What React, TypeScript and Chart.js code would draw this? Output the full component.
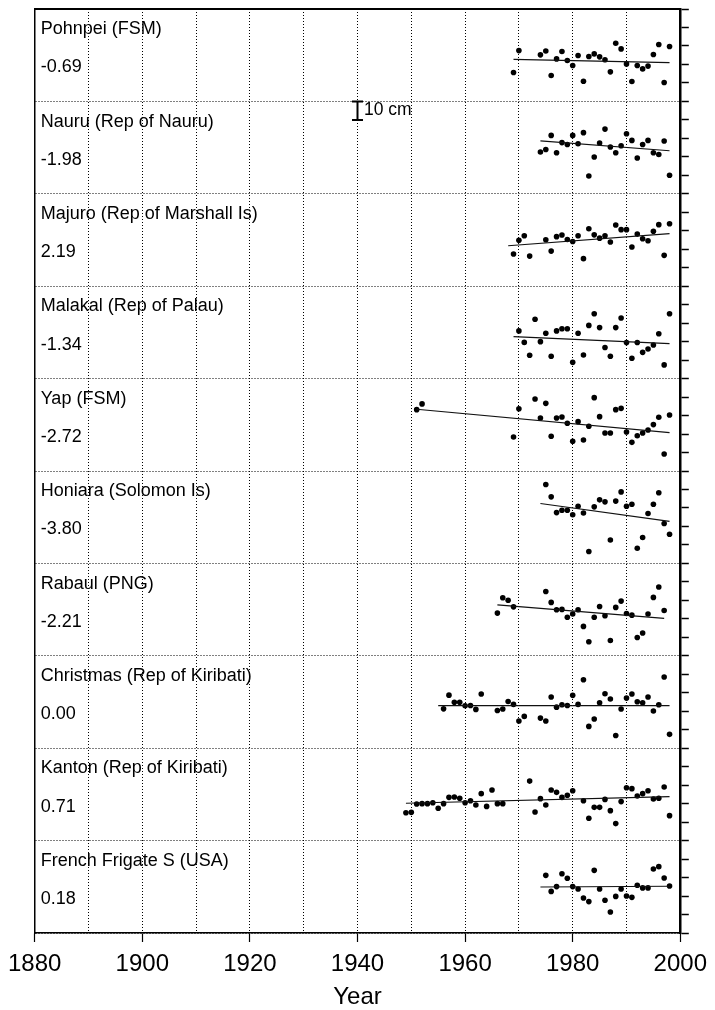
import React, { useEffect, useRef } from "react";
import { Chart, registerables } from "chart.js";

Chart.register(...registerables);

// ---------- data ----------
const STATION_NAMES = [
  "Pohnpei (FSM)",
  "Nauru (Rep of Nauru)",
  "Majuro (Rep of Marshall Is)",
  "Malakal (Rep of Palau)",
  "Yap (FSM)",
  "Honiara (Solomon Is)",
  "Rabaul (PNG)",
  "Christmas (Rep of Kiribati)",
  "Kanton (Rep of Kiribati)",
  "French Frigate S (USA)",
];
const TREND_RATES = ["-0.69", "-1.98", "2.19", "-1.34", "-2.72", "-3.80", "-2.21", "0.00", "0.71", "0.18"];

// annual sea level anomalies (cm) per station
const POHNPEI_YEARS = [1969, 1970, 1974, 1975, 1976, 1977, 1978, 1979, 1980, 1981, 1982, 1983, 1984, 1985, 1986, 1987, 1988, 1989, 1990, 1991, 1992, 1993, 1994, 1995, 1996, 1997, 1998];
const POHNPEI_CM = [-9.4, 2.5, 0.2, 2.3, -11.0, -2.0, 2.0, -2.9, -5.6, -0.2, -14.1, -0.7, 0.7, -0.9, -2.5, -9.0, 6.5, 3.4, -4.7, -14.2, -5.6, -7.4, -5.9, 0.4, 5.8, -14.8, 4.7];

const NAURU_YEARS = [1974, 1975, 1976, 1977, 1978, 1979, 1980, 1981, 1982, 1983, 1984, 1985, 1986, 1987, 1988, 1989, 1990, 1991, 1992, 1993, 1994, 1995, 1996, 1997, 1998];
const NAURU_CM = [-2.4, -1.0, 6.6, -2.8, 2.7, 1.7, 6.6, 2.1, 8.1, -15.4, -5.1, 2.5, 10.0, 0.3, -2.8, 1.0, 7.5, 3.9, -5.6, 1.7, 3.9, -2.8, -3.7, 3.6, -15.0];

const MAJURO_YEARS = [1969, 1970, 1971, 1972, 1975, 1976, 1977, 1978, 1979, 1980, 1981, 1982, 1983, 1984, 1985, 1986, 1987, 1988, 1989, 1990, 1991, 1992, 1993, 1994, 1995, 1996, 1997, 1998];
const MAJURO_CM = [-7.6, -0.2, 2.3, -8.7, 0.1, -6.0, 1.8, 2.7, 0.3, -0.8, 2.3, -10.1, 6.1, 2.8, 1.0, 2.3, -1.1, 8.1, 5.6, 5.6, -3.8, 3.2, 0.7, -0.4, 4.7, 8.3, -8.3, 8.8];

const MALAKAL_YEARS = [1970, 1971, 1972, 1973, 1974, 1975, 1976, 1977, 1978, 1979, 1980, 1981, 1982, 1983, 1984, 1985, 1986, 1987, 1988, 1989, 1990, 1991, 1992, 1993, 1994, 1995, 1996, 1997, 1998];
const MALAKAL_CM = [0.8, -5.4, -12.4, 7.1, -5.0, -0.5, -12.9, 0.8, 2.0, 2.0, -16.2, -0.5, -12.2, 3.8, 10.1, 2.6, -8.2, -12.9, 2.6, 7.8, -5.5, -14.0, -5.5, -10.8, -9.0, -6.8, -0.7, -17.6, 10.1];

const YAP_YEARS = [1951, 1952, 1969, 1970, 1973, 1974, 1975, 1976, 1977, 1978, 1979, 1980, 1981, 1982, 1983, 1984, 1985, 1986, 1987, 1988, 1989, 1990, 1991, 1992, 1993, 1994, 1995, 1996, 1997, 1998];
const YAP_CM = [8.2, 11.3, -6.6, 8.7, 14.0, 3.7, 11.6, -6.2, 3.7, 4.2, 0.8, -8.9, 1.7, -8.2, -0.8, 14.7, 4.4, -4.4, -4.4, 8.2, 8.9, -3.9, -9.5, -5.9, -4.4, -2.8, 0.1, 4.1, -15.8, 5.3];

const HONIARA_YEARS = [1975, 1976, 1977, 1978, 1979, 1980, 1981, 1982, 1983, 1984, 1985, 1986, 1987, 1988, 1989, 1990, 1991, 1992, 1993, 1994, 1995, 1996, 1997, 1998];
const HONIARA_CM = [17.7, 11.0, 2.5, 3.8, 3.8, 1.3, 5.9, 2.3, -18.6, 5.6, 9.4, 8.3, -12.3, 8.7, 13.7, 5.9, 7.0, -16.8, -11.0, 2.0, 7.0, 13.2, -3.4, -9.2];

const RABAUL_YEARS = [1966, 1967, 1968, 1969, 1975, 1976, 1977, 1978, 1979, 1980, 1981, 1982, 1983, 1984, 1985, 1986, 1987, 1988, 1989, 1990, 1991, 1992, 1993, 1994, 1995, 1996, 1997];
const RABAUL_CM = [-1.9, 6.4, 5.1, 1.5, 9.8, 3.9, -0.1, 0.1, -4.1, -2.4, -0.1, -9.1, -17.4, -4.1, 1.7, -3.3, -16.7, 1.2, 4.6, -2.1, -3.0, -15.1, -12.7, -2.4, 6.6, 12.2, -0.5];

const CHRISTMAS_YEARS = [1956, 1957, 1958, 1959, 1960, 1961, 1962, 1963, 1966, 1967, 1968, 1969, 1970, 1971, 1974, 1975, 1976, 1977, 1978, 1979, 1980, 1981, 1982, 1983, 1984, 1985, 1986, 1987, 1988, 1989, 1990, 1991, 1992, 1993, 1994, 1995, 1996, 1997, 1998];
const CHRISTMAS_CM = [-3.7, 3.7, -0.1, -0.1, -2.0, -1.9, -4.0, 4.3, -4.6, -3.8, 0.3, -1.3, -10.3, -7.8, -8.7, -10.3, 2.7, -2.8, -1.5, -1.9, 3.6, -1.3, 12.0, -13.2, -9.2, -0.4, 4.5, 1.6, -18.1, -3.8, 2.1, 4.3, 0.1, -0.4, 2.7, -4.9, -1.5, 13.5, -17.5];

const KANTON_YEARS = [1949, 1950, 1951, 1952, 1953, 1954, 1955, 1956, 1957, 1958, 1959, 1960, 1961, 1962, 1963, 1964, 1965, 1966, 1967, 1972, 1973, 1974, 1975, 1976, 1977, 1978, 1979, 1980, 1982, 1983, 1984, 1985, 1986, 1987, 1988, 1989, 1990, 1991, 1992, 1993, 1994, 1995, 1996, 1997, 1998];
const KANTON_CM = [-9.9, -9.7, -5.2, -5.0, -5.0, -4.5, -7.5, -5.0, -1.6, -1.4, -2.1, -4.5, -3.4, -5.7, 0.4, -6.5, 2.4, -5.0, -5.0, 7.2, -9.5, -2.3, -5.7, 2.4, 1.1, -1.6, -0.5, 2.0, -3.4, -12.9, -7.0, -7.0, -2.7, -8.8, -15.8, -3.9, 3.6, 3.1, -0.9, 0.4, 2.0, -2.5, -2.1, 4.0, -11.5];

const FRENCH_FRIGATE_YEARS = [1975, 1976, 1977, 1978, 1979, 1980, 1981, 1982, 1983, 1984, 1985, 1986, 1987, 1988, 1989, 1990, 1991, 1992, 1993, 1994, 1995, 1996, 1997, 1998];
const FRENCH_FRIGATE_CM = [6.2, -2.5, 0.1, 7.1, 4.6, 0.1, -1.2, -6.1, -8.0, 8.9, -1.2, -7.3, -13.6, -5.2, -1.2, -5.0, -5.7, 0.8, -0.6, -0.6, 9.6, 10.9, 4.8, 0.4];

// linear trend end points (year, cm)
const TREND_START_YEAR = [1969, 1974, 1968, 1969, 1951, 1974, 1966, 1955, 1949, 1974];
const TREND_END_YEAR = [1998, 1998, 1998, 1998, 1998, 1998, 1997, 1998, 1998, 1998];
const TREND_START_CM = [-2.3, 3.6, -3.1, -2.3, 8.4, 7.4, 2.6, -2.0, -4.8, -0.1];
const TREND_END_CM = [-4.0, -1.7, 3.4, -6.1, -4.2, -2.3, -4.8, -2.0, -1.2, 0.3];

// axis settings
const YEAR_MIN = 1880;
const YEAR_MAX = 2000;
const YEAR_GRID_STEP = 10;
const YEAR_LABEL_STEP = 20;
const PANEL_CM = 50; // vertical span of each station panel
const RIGHT_TICK_CM = 10;
const SCALE_BAR_YEAR = 1940;
const SCALE_BAR_PANEL = 1; // bar hangs from top of this panel
const SCALE_BAR_CM = 10;
const SCALE_BAR_LABEL = "10 cm";

const ALL_YEARS = [POHNPEI_YEARS, NAURU_YEARS, MAJURO_YEARS, MALAKAL_YEARS, YAP_YEARS, HONIARA_YEARS, RABAUL_YEARS, CHRISTMAS_YEARS, KANTON_YEARS, FRENCH_FRIGATE_YEARS];
const ALL_CM = [POHNPEI_CM, NAURU_CM, MAJURO_CM, MALAKAL_CM, YAP_CM, HONIARA_CM, RABAUL_CM, CHRISTMAS_CM, KANTON_CM, FRENCH_FRIGATE_CM];

const FONT = '"Liberation Sans", Arial, Helvetica, sans-serif';
const N = STATION_NAMES.length;
const Y_MAX = N * PANEL_CM;
const panelCenter = (i: number) => Y_MAX - PANEL_CM * i - PANEL_CM / 2;
const panelTop = (i: number) => Y_MAX - PANEL_CM * i;

const labelPlugin = {
  id: "stationLabels",
  afterDatasetsDraw(chart: any) {
    const { ctx, chartArea, scales } = chart;
    const ys = scales.y;
    const xs = scales.x;
    ctx.save();
    ctx.fillStyle = "#000";
    ctx.textAlign = "left";
    ctx.textBaseline = "alphabetic";
    ctx.font = `18px ${FONT}`;
    STATION_NAMES.forEach((name, i) => {
      const top = ys.getPixelForValue(panelTop(i));
      ctx.fillText(name, chartArea.left + 6, top + 25.2);
      ctx.fillText(TREND_RATES[i], chartArea.left + 6, top + 63.4);
    });
    const bx = xs.getPixelForValue(SCALE_BAR_YEAR);
    const barTop = panelTop(SCALE_BAR_PANEL);
    const by = ys.getPixelForValue(barTop - SCALE_BAR_CM / 2);
    ctx.font = `17.5px ${FONT}`;
    ctx.textBaseline = "middle";
    ctx.fillText(SCALE_BAR_LABEL, bx + 6.5, by);
    ctx.restore();
  },
};

export default function App() {
  const ref = useRef<HTMLCanvasElement>(null);

  useEffect(() => {
    const datasets: any[] = [];
    for (let i = 0; i < N; i++) {
      const base = panelCenter(i);
      datasets.push({
        type: "line",
        data: [
          { x: TREND_START_YEAR[i], y: base + TREND_START_CM[i] },
          { x: TREND_END_YEAR[i], y: base + TREND_END_CM[i] },
        ],
        borderColor: "#111",
        borderWidth: 1.2,
        pointRadius: 0,
        fill: false,
        xAxisID: "x",
        yAxisID: "y",
      });
      datasets.push({
        type: "scatter",
        data: ALL_YEARS[i].map((yr, k) => ({ x: yr, y: base + ALL_CM[i][k] })),
        pointRadius: 2.8,
        pointBackgroundColor: "#000",
        pointBorderColor: "#000",
        pointBorderWidth: 0,
        showLine: false,
        xAxisID: "x",
        yAxisID: "y",
      });
    }
    const barTop = panelTop(SCALE_BAR_PANEL);
    datasets.push({
      type: "line",
      data: [
        { x: SCALE_BAR_YEAR, y: barTop },
        { x: SCALE_BAR_YEAR, y: barTop - SCALE_BAR_CM },
      ],
      borderColor: "#000",
      borderWidth: 2,
      pointStyle: "line",
      pointRadius: 5.5,
      pointBorderWidth: 2,
      pointBorderColor: "#000",
      fill: false,
      xAxisID: "x",
      yAxisID: "y",
    });

    const chart = new Chart(ref.current as HTMLCanvasElement, {
      type: "scatter",
      data: { datasets },
      options: {
        animation: false,
        responsive: false,
        devicePixelRatio: 1,
        layout: { padding: 0 },
        plugins: {
          legend: { display: false },
          tooltip: { enabled: false },
          title: { display: false },
        },
        scales: {
          x: {
            type: "linear",
            position: "bottom",
            min: YEAR_MIN,
            max: YEAR_MAX,
            afterFit: (s: any) => {
              s.height = 77;
            },
            ticks: {
              stepSize: YEAR_GRID_STEP,
              autoSkip: false,
              maxRotation: 0,
              padding: 8,
              color: "#000",
              font: { family: FONT, size: 24 },
              callback: (v: any) => (Number(v) % YEAR_LABEL_STEP === 0 ? String(v) : ""),
            },
            grid: {
              color: "#000",
              lineWidth: 1,
              drawTicks: true,
              tickLength: 9,
              tickWidth: 1.2,
              tickColor: (c: any) =>
                c.tick && Number(c.tick.value) % YEAR_LABEL_STEP === 0 ? "#000" : "rgba(0,0,0,0)",
            },
            border: { display: true, color: "#000", width: 1.5, dash: [1, 2] },
            title: {
              display: true,
              text: "Year",
              color: "#000",
              font: { family: FONT, size: 24, lineHeight: 1 },
              padding: { top: 0, bottom: 0.5 },
            },
          },
          xTop: {
            type: "linear",
            position: "top",
            min: YEAR_MIN,
            max: YEAR_MAX,
            afterFit: (s: any) => {
              s.height = 9;
            },
            ticks: { display: false },
            grid: { display: false, drawTicks: false },
            border: { display: true, color: "#000", width: 2 },
          },
          y: {
            type: "linear",
            position: "left",
            min: 0,
            max: Y_MAX,
            afterFit: (s: any) => {
              s.width = 33;
            },
            ticks: {
              stepSize: PANEL_CM,
              autoSkip: false,
              display: false,
            },
            grid: {
              color: "#000",
              lineWidth: 1,
              drawTicks: false,
            },
            border: { display: true, color: "#000", width: 1.5, dash: [1, 2] },
          },
          y2: {
            type: "linear",
            position: "right",
            min: 0,
            max: Y_MAX,
            afterFit: (s: any) => {
              s.width = 30.5;
            },
            ticks: {
              stepSize: RIGHT_TICK_CM,
              autoSkip: false,
              maxTicksLimit: 200,
              font: { size: 6 },
              callback: () => "",
            },
            grid: {
              drawOnChartArea: false,
              drawTicks: true,
              tickLength: 8.5,
              tickWidth: 1.5,
              tickColor: "#000",
              color: "#000",
            },
            border: { display: true, color: "#000", width: 2.5 },
          },
        },
      } as any,
      plugins: [labelPlugin],
    });
    return () => chart.destroy();
  }, []);

  return (
    <div style={{ position: "absolute", left: 0, top: 0, width: 715, height: 1010 }}>
      <canvas ref={ref} width={715} height={1010} style={{ width: 715, height: 1010, display: "block" }} />
    </div>
  );
}
